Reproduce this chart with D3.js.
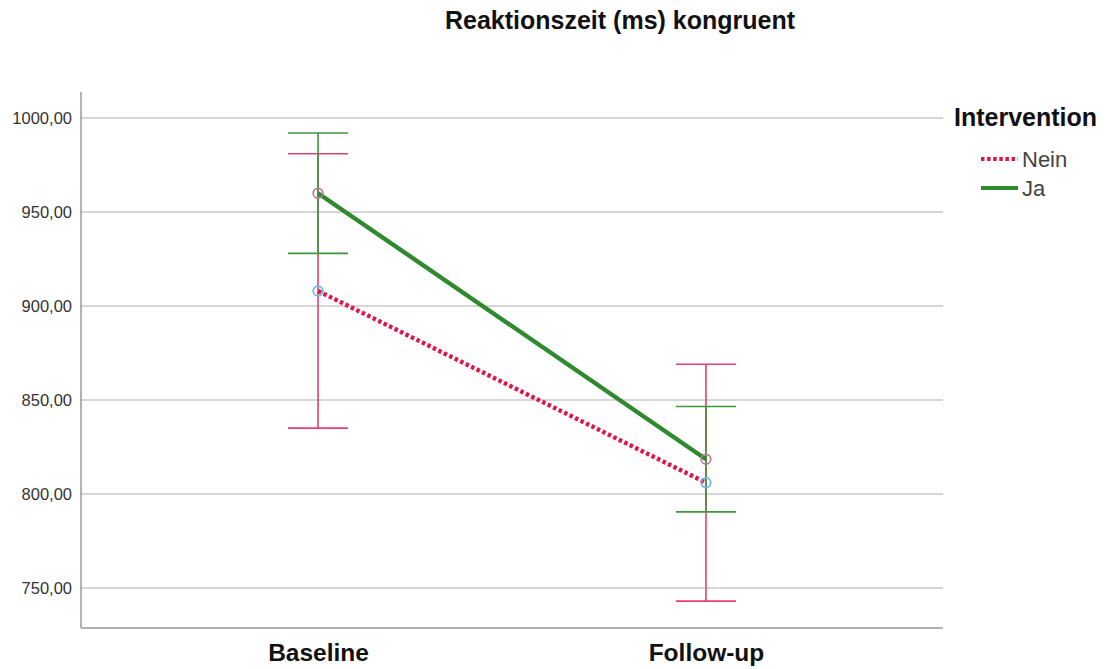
<!DOCTYPE html>
<html><head><meta charset="utf-8">
<script src="https://cdn.jsdelivr.net/npm/d3@7"></script>
<style>body{margin:0;background:#fff;}svg{display:block;font-family:"Liberation Sans",Arial,sans-serif;}</style>
</head><body>
<svg id="chart" width="1106" height="669"></svg>
<script>
const categories = ["Baseline", "Follow-up"];
const seriesNames = ["Nein", "Ja"];
const neinMean = [908, 806];
const neinLow = [835, 743];
const neinHigh = [981, 869];
const jaMean = [960, 818.5];
const jaLow = [928, 790.5];
const jaHigh = [992, 846.5];
const yTicks = [750, 800, 850, 900, 950, 1000];
const title = "Reaktionszeit (ms) kongruent";
const legendTitle = "Intervention";

const series = [
  {name: seriesNames[0], mean: neinMean, low: neinLow, high: neinHigh, color: "#e0164b", bar: "#e4406e", marker: "#6cb4ec", dash: "3.5,2.6"},
  {name: seriesNames[1], mean: jaMean, low: jaLow, high: jaHigh, color: "#2f8a2f", bar: "#3c963c", marker: "#b27894", dash: null}
];

const svg = d3.select("#chart");
const L = 81, R = 943, T = 92, B = 628;
const x = d3.scalePoint().domain(categories).range([L, R]).padding(0.611);
const y = d3.scaleLinear().domain([728.7, 1013.3]).range([B, T + 1]);
const loc = d3.formatLocale({decimal: ",", thousands: "", grouping: [3], currency: ["", ""]});
const fmt = loc.format(".2f");

// title
svg.append("text").attr("x", 620).attr("y", 29).attr("text-anchor", "middle")
  .attr("font-size", 25).attr("font-weight", "bold").attr("fill", "#111").text(title);

// gridlines
svg.append("g").selectAll("line").data(yTicks).join("line")
  .attr("x1", L).attr("x2", R).attr("y1", d => y(d)).attr("y2", d => y(d))
  .attr("stroke", "#c8c8c8").attr("stroke-width", 1.5);

// y axis
const yAxis = svg.append("g").attr("transform", `translate(${L},0)`)
  .call(d3.axisLeft(y).tickValues(yTicks).tickFormat(fmt).tickSize(0).tickPadding(9));
yAxis.select(".domain").remove();
yAxis.selectAll("text").attr("font-size", 16.5).attr("fill", "#333").attr("font-family", "Liberation Sans, Arial, sans-serif");
svg.append("line").attr("x1", L).attr("x2", L).attr("y1", T).attr("y2", B).attr("stroke", "#999").attr("stroke-width", 1.5);

// x axis
const xAxis = svg.append("g").attr("transform", `translate(0,${B})`)
  .call(d3.axisBottom(x).tickSize(0).tickPadding(16));
xAxis.select(".domain").remove();
xAxis.selectAll("text").attr("font-size", 24.5).attr("font-weight", "bold").attr("fill", "#111").attr("font-family", "Liberation Sans, Arial, sans-serif");
svg.append("line").attr("x1", L).attr("x2", R).attr("y1", B).attr("y2", B).attr("stroke", "#999").attr("stroke-width", 1.5);

// error bars
const capW = 30;
series.forEach(s => {
  const g = svg.append("g");
  categories.forEach((c, i) => {
    const cx = x(c);
    g.append("line").attr("x1", cx).attr("x2", cx).attr("y1", y(s.low[i])).attr("y2", y(s.high[i])).attr("stroke", s.bar).attr("stroke-width", 1.6);
    [s.low[i], s.high[i]].forEach(v => {
      g.append("line").attr("x1", cx - capW).attr("x2", cx + capW).attr("y1", y(v)).attr("y2", y(v)).attr("stroke", s.bar).attr("stroke-width", 1.6);
    });
  });
});

// lines
const line = d3.line().x((d, i) => x(categories[i])).y(d => y(d));
series.forEach(s => {
  svg.append("path").datum(s.mean).attr("d", line).attr("fill", "none")
    .attr("stroke", s.color).attr("stroke-width", 4.4)
    .attr("stroke-dasharray", s.dash);
});

// markers
series.forEach(s => {
  svg.append("g").selectAll("circle").data(s.mean).join("circle")
    .attr("cx", (d, i) => x(categories[i])).attr("cy", d => y(d)).attr("r", 4.8)
    .attr("fill", "none").attr("stroke", s.marker).attr("stroke-width", 1.7);
});

// legend
svg.append("text").attr("x", 954).attr("y", 126).attr("font-size", 25).attr("font-weight", "bold").attr("fill", "#111").text(legendTitle);
series.forEach((s, i) => {
  const ly = 159 + i * 29;
  svg.append("line").attr("x1", 981).attr("x2", 1018).attr("y1", ly).attr("y2", ly)
    .attr("stroke", s.color).attr("stroke-width", 4.2).attr("stroke-dasharray", s.dash);
  svg.append("text").attr("x", 1022).attr("y", ly + 8).attr("font-size", 22).attr("fill", "#444").text(s.name);
});
</script>
</body></html>
